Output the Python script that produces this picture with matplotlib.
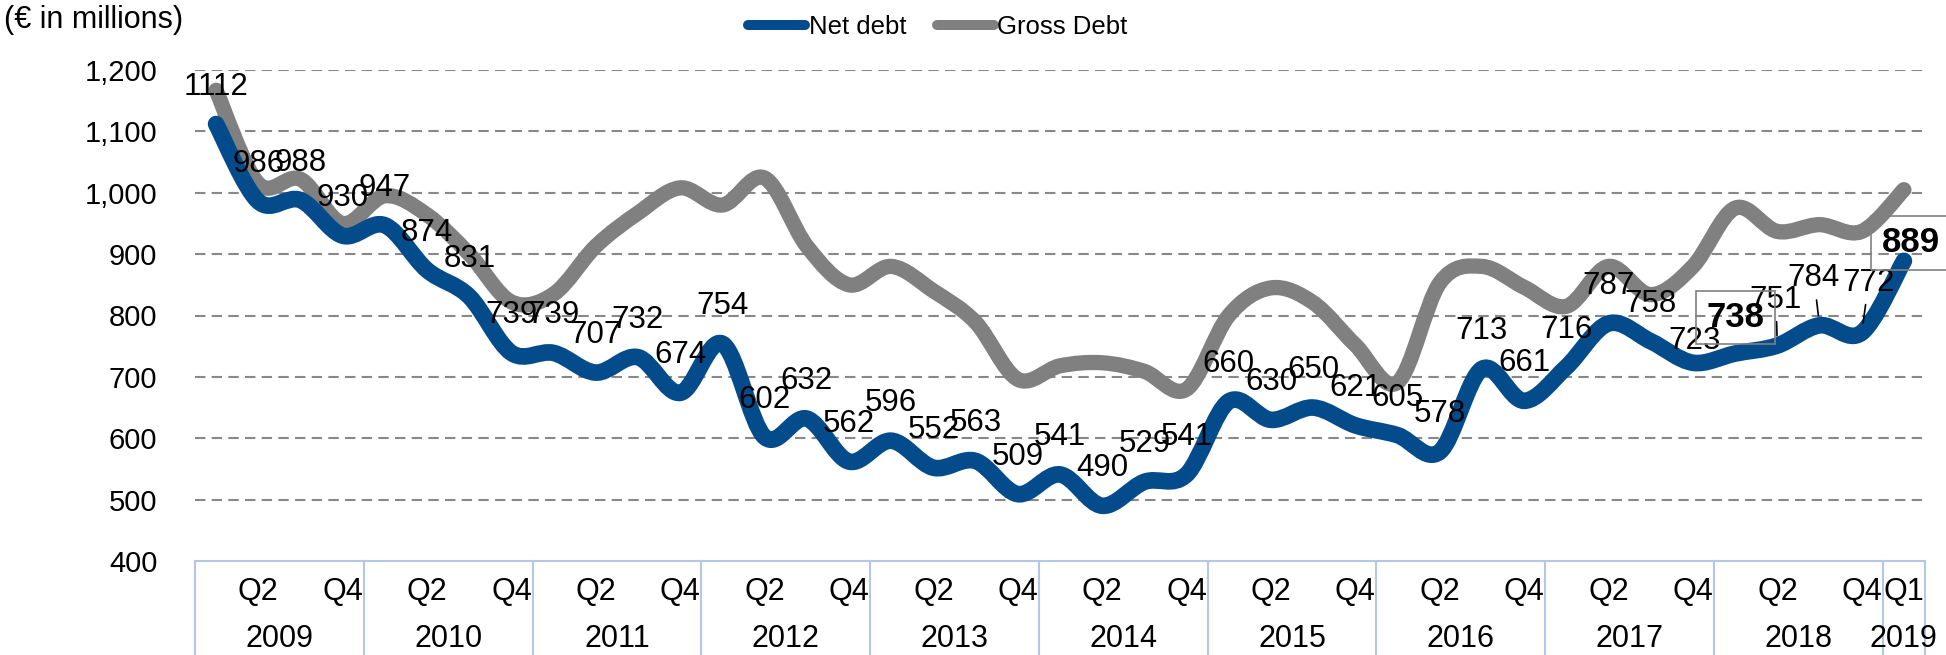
import numpy as np
import matplotlib.pyplot as plt
from matplotlib.path import Path
from matplotlib.patches import PathPatch
from matplotlib.lines import Line2D

plt.rcParams['font.family'] = ['Liberation Sans', 'DejaVu Sans']

# categories: 2009 Q1 ... 2019 Q1
year_names = ['2009', '2010', '2011', '2012', '2013', '2014',
              '2015', '2016', '2017', '2018', '2019']
quarter_names = ['Q1', 'Q2', 'Q3', 'Q4']
years = [y for y in year_names[:-1] for _ in quarter_names] + ['2019']
quarters = quarter_names * 10 + ['Q1']

net_debt = [1112, 986, 988, 930, 947, 874, 831, 739, 739, 707, 732, 674,
            754, 602, 632, 562, 596, 552, 563, 509, 541, 490, 529, 541,
            660, 630, 650, 621, 605, 578, 713, 661, 716, 787, 758, 723,
            738, 751, 784, 772, 889]
gross_debt = [1167, 1015, 1022, 950, 995, 964, 900, 822, 835, 913, 967, 1008,
              980, 1024, 913, 850, 880, 840, 789, 696, 718, 723, 709, 680,
              800, 845, 821, 752, 691, 853, 880, 846, 815, 880, 834, 880,
              975, 937, 948, 937, 1005]

y_ticks = [400, 500, 600, 700, 800, 900, 1000, 1100, 1200]

BLUE = '#034B8B'
GRAY = '#808080'
AXIS_BLUE = '#B4C7E7'


def smooth_path(xs, ys):
    # excel style smoothed line: catmull-rom converted to bezier segments
    pts = np.column_stack([xs, ys]).astype(float)
    n = len(pts)
    verts = [pts[0]]
    codes = [Path.MOVETO]
    for i in range(n - 1):
        p0 = pts[max(i - 1, 0)]
        p1 = pts[i]
        p2 = pts[i + 1]
        p3 = pts[min(i + 2, n - 1)]
        verts += [p1 + (p2 - p0) / 6, p2 - (p3 - p1) / 6, p2]
        codes += [Path.CURVE4] * 3
    return Path(verts, codes)


fig = plt.figure(figsize=(19.46, 6.55), dpi=100)
ax = fig.add_axes([195 / 1946, 1 - 561 / 655, 1730 / 1946, 491 / 655])

x = np.arange(len(net_debt))
ax.set_xlim(-0.5, len(x) - 0.5)
ax.set_ylim(400, 1200)

# gridlines
for t in y_ticks[1:]:
    ax.axhline(t, color='#888888', lw=1.5, ls=(0, (5, 3)), zorder=1)

ax.add_patch(PathPatch(smooth_path(x, gross_debt), fill=False, edgecolor=GRAY,
                       lw=11, capstyle='round', joinstyle='round', zorder=2,
                       clip_on=False))
ax.add_patch(PathPatch(smooth_path(x, net_debt), fill=False, edgecolor=BLUE,
                       lw=12, capstyle='round', joinstyle='round', zorder=3,
                       clip_on=False))

# axes styling
for s in ['top', 'right', 'left']:
    ax.spines[s].set_visible(False)
ax.spines['bottom'].set_color(AXIS_BLUE)
ax.spines['bottom'].set_linewidth(1.5)
ax.set_yticks(y_ticks)
ax.set_yticklabels([f'{t:,}' for t in y_ticks])
ax.tick_params(axis='y', length=0, pad=27, labelsize=21)
ax.set_xticks([])

# multi-level category axis
xtr = ax.get_xaxis_transform()
bounds = [-0.5] + [i - 0.5 for i in range(1, len(years)) if years[i] != years[i - 1]] + [len(years) - 0.5]
for b in bounds:
    ax.plot([b, b], [0, -0.2], transform=xtr, color=AXIS_BLUE, lw=1.5, clip_on=False)
for i, q in enumerate(quarters):
    if i % 2 == 1 or i == len(quarters) - 1:
        ax.annotate(q, (i, 0), xycoords=xtr, xytext=(0, -22), textcoords='offset points',
                    ha='center', va='center', fontsize=22)
for a, b in zip(bounds[:-1], bounds[1:]):
    ax.annotate(years[int(a + 0.5)], ((a + b) / 2, 0), xycoords=xtr, xytext=(0, -56),
                textcoords='offset points', ha='center', va='center', fontsize=22)

# data labels
special = {35: (1, 16), 37: (-1, 33), 38: (-4, 34), 39: (5, 36)}
for i, v in enumerate(net_debt):
    if i in (36, 40):
        continue
    dx, dy = special.get(i, (0, 27))
    kw = {}
    if i in (37, 38, 39):
        kw['arrowprops'] = dict(arrowstyle='-', color='black', lw=1.2, shrinkA=3, shrinkB=7)
    ax.annotate(str(v), (i, v), xytext=(dx, dy), textcoords='offset points',
                ha='center', va='center', fontsize=22.5, zorder=5, **kw)

box = dict(boxstyle='square,pad=0.3', fc='none', ec=GRAY, lw=1.2)
ax.annotate(str(net_debt[36]), (36, net_debt[36]), xytext=(0, 26), textcoords='offset points',
            ha='center', va='center', fontsize=25, fontweight='bold', bbox=box, zorder=5)
ax.annotate(str(net_debt[40]), (40, net_debt[40]), xytext=(5, 13), textcoords='offset points',
            ha='center', va='center', fontsize=25, fontweight='bold', bbox=box, zorder=5,
            annotation_clip=False)

# legend
handles = [Line2D([], [], color=BLUE, lw=7.2, solid_capstyle='round'),
           Line2D([], [], color=GRAY, lw=7.2, solid_capstyle='round')]
ax.legend(handles, ['Net debt', 'Gross Debt'], loc='center', ncol=2, frameon=False,
          bbox_to_anchor=(0.482, 0.959), bbox_transform=fig.transFigure,
          fontsize=18.5, handlelength=2.2, handletextpad=0.15, columnspacing=1.2)

fig.text(4 / 1946, 1 - 20 / 655, '(€ in millions)', ha='left', va='center', fontsize=22)

fig.savefig('out.png', dpi=100)
